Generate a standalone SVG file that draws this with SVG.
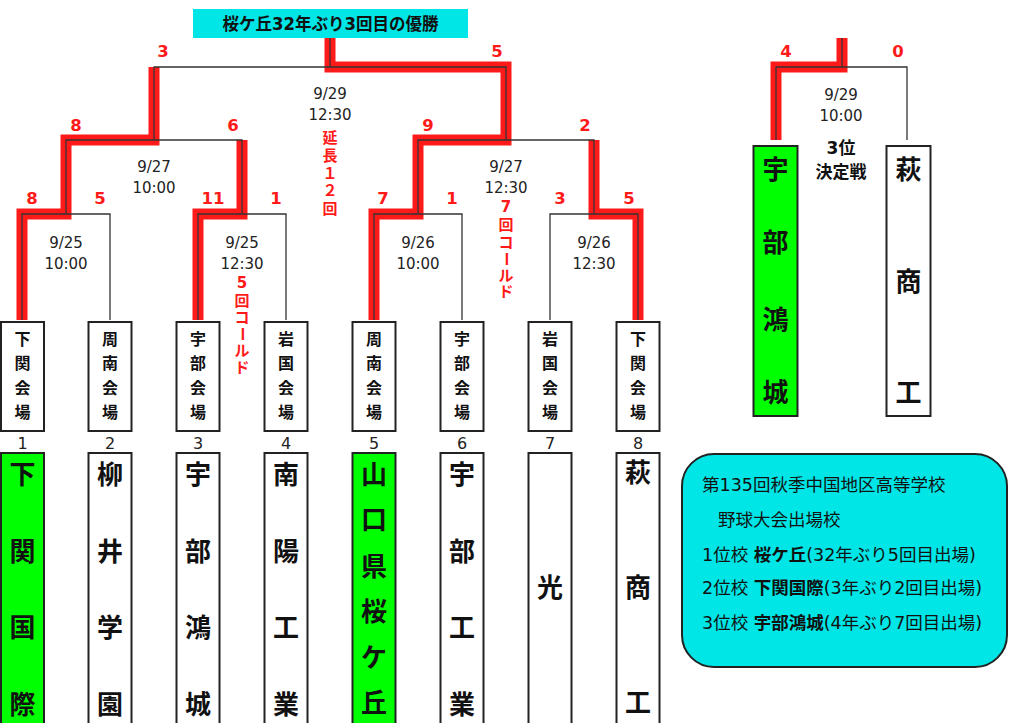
<svg xmlns="http://www.w3.org/2000/svg" width="1024" height="723" viewBox="0 0 1024 723">
<style>
.bg{fill:#fff}
.red{fill:none;stroke:#ff1a1a;stroke-width:11;stroke-linejoin:miter}
.ln{fill:none;stroke:#333;stroke-width:1.3}
.box{fill:#fff;stroke:#222;stroke-width:2}
.win{fill:#00ff00;stroke:#222;stroke-width:2}
.sc{font-family:"DejaVu Sans","Noto Sans CJK JP",sans-serif;font-weight:bold;font-size:16.5px;fill:#ff1a1a;text-anchor:middle}
.dt{font-family:"DejaVu Sans","Noto Sans CJK JP",sans-serif;font-size:15px;fill:#222;text-anchor:middle}
.rv{font-family:"DejaVu Sans","Noto Sans CJK JP",sans-serif;font-weight:bold;font-size:15px;fill:#ff1a1a;text-anchor:middle}
.vn{font-family:"Noto Sans CJK JP",sans-serif;font-weight:bold;font-size:16px;fill:#111;text-anchor:middle}
.sn{font-family:"Noto Sans CJK JP",sans-serif;font-weight:bold;font-size:26px;fill:#111;text-anchor:middle}
.num{font-family:"DejaVu Sans","Noto Sans CJK JP",sans-serif;font-size:16px;fill:#222;text-anchor:middle}
.lg{font-family:"DejaVu Sans","Noto Sans CJK JP",sans-serif;font-size:17.5px;fill:#111}
.b{font-family:"Noto Sans CJK JP",sans-serif;font-weight:bold}
.tt{font-family:"DejaVu Sans","Noto Sans CJK JP",sans-serif;font-weight:bold;font-size:17px;fill:#111;text-anchor:middle}
.pl{font-family:"DejaVu Sans","Noto Sans CJK JP",sans-serif;font-weight:bold;font-size:17px;fill:#111;text-anchor:middle}
</style>
<rect class="bg" x="0" y="0" width="1024" height="723"/>

<g id="title">
<rect x="193" y="9" width="275" height="29" fill="#00e5e5"/>
<text class="tt" x="330.5" y="30" textLength="216" lengthAdjust="spacingAndGlyphs">桜ケ丘32年ぶり3回目の優勝</text>
</g>

<g id="connectors">
<path class="red" d="M22,320 V214 H66 V140 H154 V67"/>
<path class="red" d="M198,320 V214 H242 V140"/>
<path class="red" d="M374,320 V214 H418 V140 H506 V67 H330 V38"/>
<path class="red" d="M638,320 V214 H594 V140"/>
<path class="red" d="M776,140 V67 H842 V38"/>
<path class="ln" d="M22,320 V214 H110 V320"/>
<path class="ln" d="M198,320 V214 H286 V320"/>
<path class="ln" d="M374,320 V214 H462 V320"/>
<path class="ln" d="M550,320 V214 H638 V320"/>
<path class="ln" d="M66,214 V140 H242 V214"/>
<path class="ln" d="M418,214 V140 H594 V214"/>
<path class="ln" d="M154,140 V67 H506 V140"/>
<path class="ln" d="M330,67 V38"/>
<path class="ln" d="M776,140 V67 H907 V140"/>
<path class="ln" d="M842,67 V38"/>
</g>

<g id="scores">
<text class="sc" x="32" y="204">8</text>
<text class="sc" x="100" y="204">5</text>
<text class="sc" x="213" y="204">11</text>
<text class="sc" x="276" y="204">1</text>
<text class="sc" x="383" y="204">7</text>
<text class="sc" x="452" y="204">1</text>
<text class="sc" x="560" y="204">3</text>
<text class="sc" x="629" y="204">5</text>
<text class="sc" x="76" y="131">8</text>
<text class="sc" x="233" y="131">6</text>
<text class="sc" x="428" y="131">9</text>
<text class="sc" x="585" y="131">2</text>
<text class="sc" x="163" y="57">3</text>
<text class="sc" x="497" y="57">5</text>
<text class="sc" x="786" y="57">4</text>
<text class="sc" x="898" y="57">0</text>
</g>

<g id="dates">
<text class="dt" x="66" y="248">9/25</text>
<text class="dt" x="66" y="269">10:00</text>
<text class="dt" x="242" y="248">9/25</text>
<text class="dt" x="242" y="269">12:30</text>
<text class="dt" x="418" y="248">9/26</text>
<text class="dt" x="418" y="269">10:00</text>
<text class="dt" x="594" y="248">9/26</text>
<text class="dt" x="594" y="269">12:30</text>
<text class="dt" x="154" y="172">9/27</text>
<text class="dt" x="154" y="193">10:00</text>
<text class="dt" x="506" y="172">9/27</text>
<text class="dt" x="506" y="193">12:30</text>
<text class="dt" x="330" y="99">9/29</text>
<text class="dt" x="330" y="120">12:30</text>
<text class="dt" x="841" y="100">9/29</text>
<text class="dt" x="841" y="121">10:00</text>
</g>

<g id="notes">
<text class="rv" x="330" y="143">延</text>
<text class="rv" x="330" y="161">長</text>
<text class="rv" x="330" y="179">１</text>
<text class="rv" x="330" y="196">２</text>
<text class="rv" x="330" y="214">回</text>
<text class="rv" x="242" y="288">5</text>
<text class="rv" x="242" y="306">回</text>
<text class="rv" x="242" y="323">コ</text>
<text class="rv" transform="rotate(90 242 334)" x="242" y="339">ー</text>
<text class="rv" x="242" y="356">ル</text>
<text class="rv" x="242" y="373">ド</text>
<text class="rv" x="506" y="212">7</text>
<text class="rv" x="506" y="230">回</text>
<text class="rv" x="506" y="248">コ</text>
<text class="rv" transform="rotate(90 506 259)" x="506" y="264">ー</text>
<text class="rv" x="506" y="281">ル</text>
<text class="rv" x="506" y="297">ド</text>
<text class="pl" x="841" y="154">3位</text>
<text class="pl" x="841" y="178">決定戦</text>
</g>

<g id="venue1"><rect class="box" x="1" y="322" width="43" height="109"/>
<text class="vn" x="22.5" y="345">下</text><text class="vn" x="22.5" y="369">関</text><text class="vn" x="22.5" y="394">会</text><text class="vn" x="22.5" y="418">場</text></g>
<g id="venue2"><rect class="box" x="88.5" y="322" width="43" height="109"/>
<text class="vn" x="110" y="345">周</text><text class="vn" x="110" y="369">南</text><text class="vn" x="110" y="394">会</text><text class="vn" x="110" y="418">場</text></g>
<g id="venue3"><rect class="box" x="176.5" y="322" width="43" height="109"/>
<text class="vn" x="198" y="345">宇</text><text class="vn" x="198" y="369">部</text><text class="vn" x="198" y="394">会</text><text class="vn" x="198" y="418">場</text></g>
<g id="venue4"><rect class="box" x="264.5" y="322" width="43" height="109"/>
<text class="vn" x="286" y="345">岩</text><text class="vn" x="286" y="369">国</text><text class="vn" x="286" y="394">会</text><text class="vn" x="286" y="418">場</text></g>
<g id="venue5"><rect class="box" x="352.5" y="322" width="43" height="109"/>
<text class="vn" x="374" y="345">周</text><text class="vn" x="374" y="369">南</text><text class="vn" x="374" y="394">会</text><text class="vn" x="374" y="418">場</text></g>
<g id="venue6"><rect class="box" x="440.5" y="322" width="43" height="109"/>
<text class="vn" x="462" y="345">宇</text><text class="vn" x="462" y="369">部</text><text class="vn" x="462" y="394">会</text><text class="vn" x="462" y="418">場</text></g>
<g id="venue7"><rect class="box" x="528.5" y="322" width="43" height="109"/>
<text class="vn" x="550" y="345">岩</text><text class="vn" x="550" y="369">国</text><text class="vn" x="550" y="394">会</text><text class="vn" x="550" y="418">場</text></g>
<g id="venue8"><rect class="box" x="616.5" y="322" width="43" height="109"/>
<text class="vn" x="638" y="345">下</text><text class="vn" x="638" y="369">関</text><text class="vn" x="638" y="394">会</text><text class="vn" x="638" y="418">場</text></g>

<g id="seeds">
<text class="num" x="22.5" y="449">1</text>
<text class="num" x="110" y="449">2</text>
<text class="num" x="198" y="449">3</text>
<text class="num" x="286" y="449">4</text>
<text class="num" x="374" y="449">5</text>
<text class="num" x="462" y="449">6</text>
<text class="num" x="550" y="449">7</text>
<text class="num" x="638" y="449">8</text>
</g>

<g id="team1"><rect class="win" x="1" y="453" width="43" height="280"/>
<text class="sn" x="22.5" y="484">下</text><text class="sn" x="22.5" y="561">関</text><text class="sn" x="22.5" y="637">国</text><text class="sn" x="22.5" y="714">際</text></g>
<g id="team2"><rect class="box" x="88.5" y="453" width="43" height="280"/>
<text class="sn" x="110" y="484">柳</text><text class="sn" x="110" y="561">井</text><text class="sn" x="110" y="637">学</text><text class="sn" x="110" y="714">園</text></g>
<g id="team3"><rect class="box" x="176.5" y="453" width="43" height="280"/>
<text class="sn" x="198" y="484">宇</text><text class="sn" x="198" y="561">部</text><text class="sn" x="198" y="637">鴻</text><text class="sn" x="198" y="714">城</text></g>
<g id="team4"><rect class="box" x="264.5" y="453" width="43" height="280"/>
<text class="sn" x="286" y="484">南</text><text class="sn" x="286" y="561">陽</text><text class="sn" x="286" y="637">工</text><text class="sn" x="286" y="714">業</text></g>
<g id="team5"><rect class="win" x="352.5" y="453" width="43" height="280"/>
<text class="sn" x="374" y="484">山</text><text class="sn" x="374" y="529">口</text><text class="sn" x="374" y="576">県</text><text class="sn" x="374" y="621">桜</text><text class="sn" x="374" y="667">ケ</text><text class="sn" x="374" y="712">丘</text></g>
<g id="team6"><rect class="box" x="440.5" y="453" width="43" height="280"/>
<text class="sn" x="462" y="484">宇</text><text class="sn" x="462" y="561">部</text><text class="sn" x="462" y="637">工</text><text class="sn" x="462" y="714">業</text></g>
<g id="team7"><rect class="box" x="528.5" y="453" width="43" height="280"/>
<text class="sn" x="550" y="597">光</text></g>
<g id="team8"><rect class="box" x="616.5" y="453" width="43" height="280"/>
<text class="sn" x="638" y="482">萩</text><text class="sn" x="638" y="597">商</text><text class="sn" x="638" y="712">工</text></g>

<g id="third1"><rect class="win" x="753.5" y="146" width="44" height="270"/>
<text class="sn" x="775.5" y="179">宇</text><text class="sn" x="775.5" y="252">部</text><text class="sn" x="775.5" y="329">鴻</text><text class="sn" x="775.5" y="402">城</text></g>
<g id="third2"><rect class="box" x="886.5" y="146" width="44" height="270"/>
<text class="sn" x="908.5" y="179">萩</text><text class="sn" x="908.5" y="291">商</text><text class="sn" x="908.5" y="402">工</text></g>

<g id="legend">
<rect x="682" y="454" width="325" height="213" rx="32" ry="32" fill="#00e5e5" stroke="#222" stroke-width="2"/>
<text class="lg" x="702" y="491">第135回秋季中国地区高等学校</text>
<text class="lg" x="718" y="526">野球大会出場校</text>
<text class="lg" x="702" y="561">1位校 <tspan class="b">桜ケ丘</tspan>(32年ぶり5回目出場)</text>
<text class="lg" x="702" y="594">2位校 <tspan class="b">下関国際</tspan>(3年ぶり2回目出場)</text>
<text class="lg" x="702" y="629">3位校 <tspan class="b">宇部鴻城</tspan>(4年ぶり7回目出場)</text>
</g>
</svg>
